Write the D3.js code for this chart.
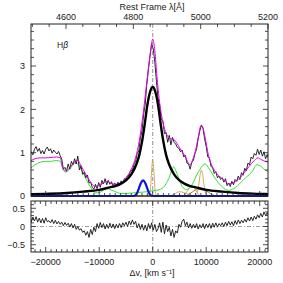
<!DOCTYPE html>
<html><head><meta charset="utf-8">
<script src="https://cdn.jsdelivr.net/npm/d3@7"></script>
<style>body{margin:0;background:#fff}svg{display:block}text{font-family:"Liberation Sans",Arial,sans-serif;fill:#222}</style>
</head><body>
<script>
// ---------- DATA ----------
const velRange = [-23000, 22000];           // km/s, observed grid span
const observed = [0.92,1.02,0.95,1.08,1.14,1.03,1.10,0.98,1.05,0.97,1.08,1.13,1.04,1.09,0.99,1.06,1.01,0.97,1.03,0.93,
0.85,0.62,0.66,0.57,0.74,0.62,0.80,0.72,0.86,0.74,0.92,0.60,0.70,0.50,0.55,0.42,0.48,0.30,0.32,0.20,
0.16,0.27,0.17,0.31,0.20,0.36,0.28,0.40,0.26,0.36,0.27,0.33,0.22,0.30,0.22,0.32,0.26,0.35,0.30,0.40,
0.38,0.46,0.48,0.60,0.58,0.74,0.80,0.98,1.04,1.34,1.50,1.88,2.12,2.58,2.92,3.24,3.50,3.40,3.08,2.64,
2.26,2.10,1.76,1.74,1.44,1.46,1.24,1.40,1.18,1.35,1.24,1.20,1.12,1.10,1.02,1.06,0.90,0.94,0.76,0.74,
0.62,0.78,0.82,0.98,1.08,1.32,1.50,1.64,1.56,1.32,1.14,0.90,0.88,0.68,0.66,0.52,0.56,0.42,0.46,0.38,
0.42,0.32,0.40,0.24,0.30,0.22,0.34,0.26,0.38,0.34,0.46,0.38,0.54,0.48,0.64,0.58,0.76,0.72,0.90,0.86,
0.98,0.94,1.08,0.96,1.06,0.92,1.02,0.86,0.96,0.84,0.90];
const residual = [0.22,0.12,0.26,0.15,0.27,0.12,0.23,0.10,0.22,0.09,0.24,0.13,0.16,0.10,0.19,0.08,0.17,0.07,0.14,0.06,
0.12,0.02,0.11,0.03,0.09,-0.01,0.08,-0.04,0.06,-0.08,0.00,-0.10,-0.06,-0.16,-0.12,-0.24,-0.14,-0.30,-0.08,-0.22,
-0.02,-0.14,0.08,-0.05,0.11,-0.03,0.08,-0.07,0.06,-0.05,0.09,-0.04,0.07,-0.06,0.06,-0.04,0.08,-0.03,0.10,0.02,
0.12,0.00,0.15,0.05,0.18,0.06,0.14,-0.04,0.08,-0.08,0.06,-0.10,0.04,-0.12,0.08,-0.06,0.10,-0.10,0.06,-0.14,
-0.06,0.10,-0.16,0.12,-0.20,0.04,-0.14,-0.02,-0.26,-0.08,-0.30,-0.12,-0.18,0.06,-0.02,0.14,0.20,0.02,0.12,-0.04,
0.08,-0.05,0.06,-0.04,0.08,-0.07,0.05,-0.04,0.08,-0.06,0.07,-0.03,0.08,-0.05,0.09,-0.02,0.10,-0.02,0.08,0.02,
0.10,0.00,0.12,0.02,0.14,0.04,0.13,0.02,0.16,0.06,0.18,0.08,0.17,0.10,0.20,0.12,0.24,0.15,0.26,0.16,
0.28,0.20,0.32,0.24,0.36,0.26,0.40,0.30,0.38,0.28,0.34];
const totalFit = [[-23000,0.80],[-22000,0.86],[-21000,0.88],[-20000,0.88],[-19000,0.89],[-18000,0.90],[-17300,0.88],[-16800,0.65],[-16300,0.58],[-15500,0.65],[-14500,0.80],[-14000,0.82],[-13500,0.72],[-12500,0.50],[-11500,0.30],[-10800,0.22],[-10000,0.24],[-9000,0.32],[-8500,0.34],[-8000,0.30],[-7000,0.27],[-6000,0.30],[-5000,0.42],[-4000,0.62],[-3000,0.98],[-2500,1.28],[-2000,1.70],[-1500,2.20],[-1000,2.75],[-500,3.25],[0,3.62],[400,3.35],[800,2.75],[1200,2.25],[1600,1.90],[2000,1.65],[2500,1.45],[3000,1.35],[3500,1.32],[4000,1.30],[4500,1.22],[5000,1.12],[5500,1.02],[6000,0.93],[6500,0.80],[7000,0.72],[7500,0.85],[8000,1.05],[8500,1.35],[9000,1.62],[9300,1.60],[9800,1.35],[10400,0.95],[11000,0.72],[11600,0.58],[12500,0.45],[13500,0.35],[14200,0.28],[15000,0.30],[16000,0.38],[17000,0.52],[18000,0.68],[19000,0.82],[19600,0.88],[20300,0.84],[21000,0.80],[22000,0.78]];
const feII = [[-23000,0.62],[-22000,0.72],[-21000,0.78],[-20000,0.80],[-19000,0.80],[-18000,0.82],[-17300,0.80],[-16800,0.62],[-16300,0.55],[-15500,0.62],[-14500,0.76],[-14000,0.74],[-13300,0.60],[-12500,0.40],[-11500,0.18],[-10800,0.07],[-10000,0.08],[-9000,0.15],[-8500,0.18],[-8000,0.15],[-7000,0.10],[-6000,0.06],[-5000,0.06],[-3000,0.08],[-1000,0.10],[0,0.12],[1000,0.14],[2000,0.20],[3000,0.40],[3900,0.67],[4600,0.50],[5500,0.22],[6300,0.15],[7300,0.25],[8300,0.50],[9000,0.65],[9800,0.74],[10600,0.62],[11600,0.42],[12900,0.22],[14200,0.13],[15500,0.20],[17000,0.38],[18500,0.55],[19500,0.72],[20300,0.68],[21000,0.60],[22000,0.55]];
const broadHb = [[-23000,0.04],[-20000,0.05],[-16000,0.07],[-13000,0.10],[-10000,0.14],[-8000,0.20],[-7000,0.23],[-6000,0.28],[-5000,0.36],[-4000,0.50],[-3000,0.75],[-2500,0.95],[-2000,1.25],[-1500,1.65],[-1000,2.10],[-500,2.40],[0,2.52],[500,2.40],[1000,2.10],[1500,1.65],[2000,1.25],[2500,0.95],[3000,0.75],[4000,0.50],[5000,0.36],[6000,0.28],[7000,0.23],[8000,0.20],[10000,0.14],[13000,0.10],[16000,0.07],[20000,0.05],[22000,0.04]];
const blueComp = [[-23000,0],[-3600,0],[-3000,0.05],[-2600,0.17],[-2200,0.30],[-1800,0.36],[-1400,0.30],[-1000,0.17],[-600,0.05],[0,0],[22000,0]];
const narrowComps = [
  [[-23000,0],[-900,0],[-600,0.04],[-400,0.20],[-200,0.60],[0,0.82],[200,0.60],[400,0.20],[600,0.04],[900,0],[22000,0]],
  [[-23000,0],[7800,0],[8300,0.06],[8600,0.25],[8900,0.52],[9100,0.60],[9300,0.52],[9600,0.25],[9900,0.06],[10400,0],[22000,0]],
  [[-23000,0],[5500,0],[6300,0.08],[6900,0.20],[7300,0.25],[7700,0.20],[8300,0.08],[9000,0],[22000,0]],
  [[-23000,0],[3000,0],[4000,0.04],[5000,0.10],[6000,0.07],[7000,0.02],[8000,0],[22000,0]],
  [[-23000,0],[6000,0],[7000,0.06],[8000,0.14],[9000,0.18],[10000,0.12],[11000,0.04],[12000,0],[22000,0]]
];
const yTicksMain = [0,1,2,3];
const yTicksRes = [0.5,0,-0.5];
const vTicks = [-20000,-10000,0,10000,20000];
const lamTicks = [4600,4800,5000,5200];

// ---------- LAYOUT ----------
const W=283,H=283, L=31, R=268, T=24, B=196, RT=201, RB=252;
const svg=d3.select("body").append("svg").attr("width",W).attr("height",H);
const x=d3.scaleLinear().domain([-22750,21550]).range([L,R]);
const xl=d3.scaleLinear().domain([4496,5200]).range([L,R]);
const y=d3.scaleLinear().domain([0,3.97]).range([B,T]);
const yr=d3.scaleLinear().domain([-0.7,0.7]).range([RB,RT]);

const defs=svg.append("defs");
defs.append("clipPath").attr("id","cm").append("rect").attr("x",L).attr("y",T).attr("width",R-L).attr("height",B-T+1.2);
defs.append("clipPath").attr("id","cr").append("rect").attr("x",L).attr("y",RT).attr("width",R-L).attr("height",RB-RT);

const gm=svg.append("g").attr("clip-path","url(#cm)");
const gr=svg.append("g").attr("clip-path","url(#cr)");

const n=observed.length, step=(velRange[1]-velRange[0])/(n-1);
const obsPts=observed.map((f,i)=>[velRange[0]+i*step,f]);
const resPts=residual.map((f,i)=>[velRange[0]+(velRange[1]-velRange[0])*i/(residual.length-1),f]);

const lineM=d3.line().x(d=>x(d[0])).y(d=>y(d[1]));
const lineS=d3.line().x(d=>x(d[0])).y(d=>y(d[1])).curve(d3.curveMonotoneX);
const lineR=d3.line().x(d=>x(d[0])).y(d=>yr(d[1]));

gm.append("line").attr("x1",x(0)).attr("x2",x(0)).attr("y1",T).attr("y2",B).attr("stroke","#777").attr("stroke-width",0.8).attr("stroke-dasharray","4,2,1,2");
gr.append("line").attr("x1",x(0)).attr("x2",x(0)).attr("y1",RT).attr("y2",RB).attr("stroke","#777").attr("stroke-width",0.8).attr("stroke-dasharray","4,2,1,2");
gr.append("line").attr("x1",L).attr("x2",R).attr("y1",yr(0)).attr("y2",yr(0)).attr("stroke","#888").attr("stroke-width",0.8).attr("stroke-dasharray","4,2,1,2");

narrowComps.forEach((c,i)=>gm.append("path").datum(c).attr("d",lineS).attr("fill","none").attr("stroke",i===4?"#9a7a2a":"#d0a050").attr("stroke-width",0.9));
gm.append("path").datum(feII).attr("d",lineS).attr("fill","none").attr("stroke","#33e033").attr("stroke-width",1);
gm.append("path").datum(obsPts).attr("d",lineM).attr("fill","none").attr("stroke","#111").attr("stroke-width",0.9);
gm.append("path").datum(totalFit).attr("d",lineS).attr("fill","none").attr("stroke","#e000e0").attr("stroke-width",1);
gm.append("path").datum(broadHb).attr("d",lineS).attr("fill","none").attr("stroke","#000").attr("stroke-width",2.4);
gm.append("path").datum(blueComp).attr("d",lineS).attr("fill","none").attr("stroke","#0a14e0").attr("stroke-width",2.2);

gr.append("path").datum(resPts).attr("d",lineR).attr("fill","none").attr("stroke","#111").attr("stroke-width",0.9);

[[T,B],[RT,RB]].forEach(([t,b])=>svg.append("rect").attr("x",L).attr("y",t).attr("width",R-L).attr("height",b-t).attr("fill","none").attr("stroke","#222").attr("stroke-width",1));

function tick(x1,y1,x2,y2){svg.append("line").attr("x1",x1).attr("y1",y1).attr("x2",x2).attr("y2",y2).attr("stroke","#222").attr("stroke-width",0.8);}
for(let v=-22000; v<=21000; v+=1000){
  const big=v%10000===0, len=big?5:3, px=x(v);
  tick(px,B,px,B-len); tick(px,RT,px,RT+len); tick(px,RB,px,RB-len);
}
for(let l=4500;l<=5200;l+=50){const big=l%200===0,len=big?5:3,px=xl(l);tick(px,T,px,T+len);}
for(let v=0; v<=3.9; v+=0.2){const vv=Math.round(v*10)/10, big=Math.abs(vv-Math.round(vv))<1e-6, len=big?5:3, py=y(vv); tick(L,py,L+len,py); tick(R,py,R-len,py);}
for(let v=-0.6; v<=0.61; v+=0.1){const vv=Math.round(v*10)/10, big=Math.abs(vv*2-Math.round(vv*2))<1e-6, len=big?5:3, py=yr(vv); tick(L,py,L+len,py); tick(R,py,R-len,py);}

const fs=9;
yTicksMain.forEach(t=>svg.append("text").attr("x",25).attr("y",y(t)+3.3).attr("text-anchor","end").attr("font-size",fs).text(t));
yTicksRes.forEach(t=>svg.append("text").attr("x",25).attr("y",yr(t)+3.3).attr("text-anchor","end").attr("font-size",fs).text(t<0?"\u2212"+Math.abs(t):t));
vTicks.forEach(t=>svg.append("text").attr("x",x(t)).attr("y",265).attr("text-anchor","middle").attr("font-size",fs).text(t<0?"\u2212"+Math.abs(t):t));
lamTicks.forEach(t=>svg.append("text").attr("x",xl(t)).attr("y",19.5).attr("text-anchor","middle").attr("font-size",fs).text(t));
svg.append("text").attr("x",152).attr("y",9.5).attr("text-anchor","middle").attr("font-size",fs).text("Rest Frame \u03bb[\u00c5]");
svg.append("text").attr("x",152).attr("y",276).attr("text-anchor","middle").attr("font-size",fs).text("\u0394v, [km s\u207b\u00b9]");
const hb=svg.append("text").attr("x",57).attr("y",47.5).attr("font-size",8.5);
hb.append("tspan").text("H");hb.append("tspan").attr("font-style","italic").text("\u03b2");
</script>
</body></html>
